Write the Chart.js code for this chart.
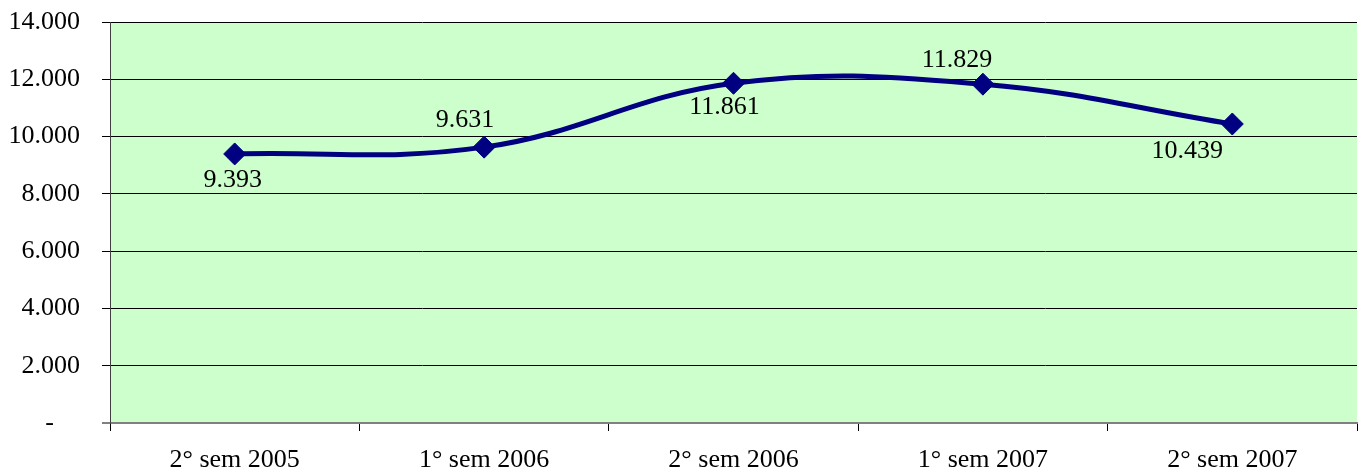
<!DOCTYPE html>
<html>
<head>
<meta charset="utf-8">
<script src="https://cdn.jsdelivr.net/npm/chart.js@4/dist/chart.umd.min.js"></script>
<style>
  html, body { margin: 0; padding: 0; background: #ffffff; }
  #wrap { width: 1362px; height: 474px; }
</style>
</head>
<body>
<div id="wrap"><canvas id="line-chart" width="1362" height="474"></canvas></div>
<script>
// categories and values
const semestres = ['2° sem 2005', '1° sem 2006', '2° sem 2006', '1° sem 2007', '2° sem 2007'];
const valores = [9393, 9631, 11861, 11829, 10439];
const yTicks = [0, 2000, 4000, 6000, 8000, 10000, 12000, 14000];

// where each value label sits relative to its point
const labelShift = [[-2, 26], [-19, -27], [-9, 24], [-26, -24], [-45, 27]];

const fuente = "'Liberation Serif', 'Times New Roman', serif";

function miles(v) {
	if (v === 0) return '-    ';
	return String(v).replace(/\B(?=(\d{3})+(?!\d))/g, '.');
}

const fondoVerde = {
	id: 'fondoVerde',
	beforeDraw(chart) {
		const a = chart.chartArea;
		const ctx = chart.ctx;
		ctx.save();
		ctx.fillStyle = '#CCFFCC';
		ctx.fillRect(a.left, a.top, a.right - a.left, a.bottom - a.top);
		ctx.restore();
	}
};

const etiquetas = {
	id: 'etiquetas',
	afterDatasetsDraw(chart) {
		const ctx = chart.ctx;
		const meta = chart.getDatasetMeta(0);
		ctx.save();
		ctx.font = '26px ' + fuente;
		ctx.fillStyle = '#000000';
		ctx.textAlign = 'center';
		ctx.textBaseline = 'middle';
		meta.data.forEach(function(pt, i) {
			ctx.fillText(miles(valores[i]), pt.x + labelShift[i][0], pt.y + labelShift[i][1]);
		});
		ctx.restore();
	}
};

const data = {
	labels: semestres,
	datasets: [{
		label: '',
		data: valores,
		borderColor: '#000080',
		backgroundColor: '#000080',
		borderWidth: 5,
		tension: 0.4,
		pointStyle: 'rectRot',
		pointRadius: 11,
		pointBorderWidth: 1,
		pointBackgroundColor: '#000080',
		pointBorderColor: '#000080'
	}]
};

const config = {
	type: 'line',
	data: data,
	options: {
		responsive: false,
		animation: false,
		layout: {
			autoPadding: false,
			padding: { top: 22, right: 5, bottom: 0, left: 0 }
		},
		plugins: {
			legend: { display: false },
			tooltip: { enabled: false }
		},
		scales: {
			x: {
				offset: true,
				grid: {
					offset: true,
					drawOnChartArea: false,
					drawTicks: true,
					tickLength: 8,
					color: '#000000'
				},
				border: { display: true, color: '#808080', width: 2 },
				ticks: {
					color: '#000000',
					padding: 14,
					maxRotation: 0,
					font: { family: fuente, size: 26 }
				},
				afterFit: function(scale) {
					scale.height = 51;
					scale.paddingLeft = 0;
					scale.paddingRight = 0;
				}
			},
			y: {
				min: 0,
				max: 14000,
				afterBuildTicks: function(scale) {
					scale.ticks = yTicks.map(function(v) { return { value: v }; });
				},
				grid: {
					color: function(c) { return c.tick && c.tick.value === 0 ? '#808080' : '#000000'; },
					lineWidth: function(c) { return c.tick && c.tick.value === 0 ? 2 : 1; },
					tickLength: 8
				},
				border: { display: true, color: '#404040', width: 1 },
				ticks: {
					color: '#000000',
					padding: 22,
					font: { family: fuente, size: 26 },
					callback: function(v) { return miles(v); }
				},
				afterFit: function(scale) {
					scale.width = 110;
					scale.paddingTop = 0;
					scale.paddingBottom = 0;
				}
			}
		}
	},
	plugins: [fondoVerde, etiquetas]
};

const myChart = new Chart(
	document.getElementById('line-chart'),
	config
);
</script>
</body>
</html>
